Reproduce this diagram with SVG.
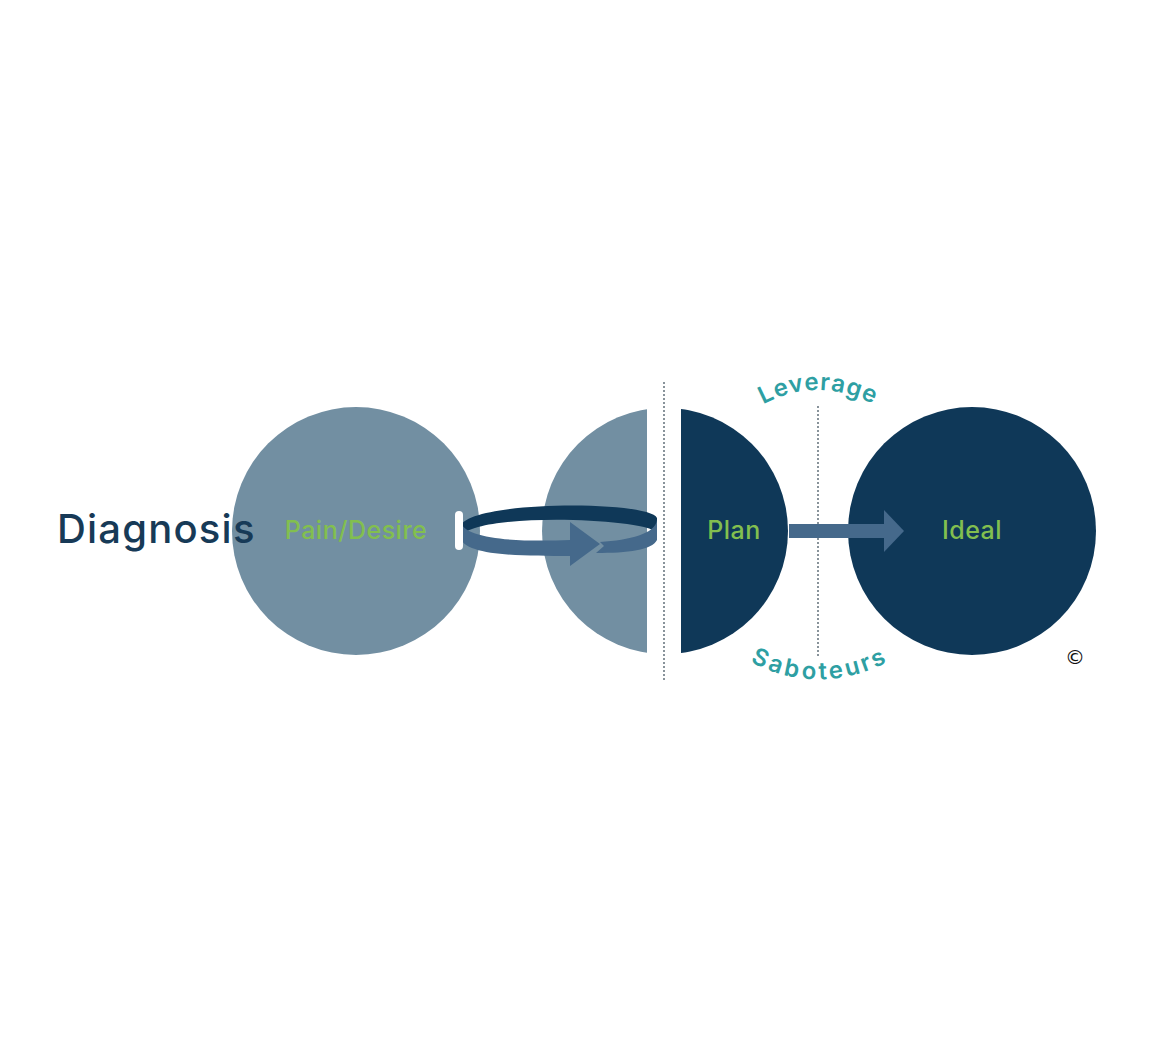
<svg xmlns="http://www.w3.org/2000/svg" width="1158" height="1061" viewBox="0 0 1158 1061">
<style>
.lbl{font-family:"Inter","Noto Sans",sans-serif;font-size:25px;font-weight:500;fill:#82bf4f;text-anchor:middle;letter-spacing:0.5px}
.arc{font-family:"Inter","Noto Sans",sans-serif;font-size:24px;font-weight:600;fill:#2e9fa3;letter-spacing:1px}
.dot{stroke:#4a5a66;stroke-width:1.3;stroke-dasharray:2 2}
</style>
<defs>
<clipPath id="cl"><rect x="500" y="390" width="147" height="280"/></clipPath>
<clipPath id="cr"><rect x="681" y="390" width="150" height="280"/></clipPath>
<path id="topArc" d="M757,408 Q817,372 880,408"/>
<path id="botArc" d="M752,642 Q818,680 886,642"/>
</defs>
<rect width="1158" height="1061" fill="#fff"/>
<g id="pain"><circle cx="356" cy="531" r="124" fill="#728fa2"/><text class="lbl" x="356" y="539">Pain/Desire</text></g>
<g id="diagnosis"><text x="57" y="543" font-family="Inter,'Noto Sans',sans-serif" font-size="40" font-weight="500" letter-spacing="1.2" fill="#173a57">Diagnosis</text></g>
<g id="half-left"><circle cx="665" cy="531" r="123" fill="#728fa2" clip-path="url(#cl)"/></g>
<g id="plan"><circle cx="665" cy="531" r="123" fill="#0f3858" clip-path="url(#cr)"/><text class="lbl" x="734" y="539">Plan</text></g>
<g id="ideal"><circle cx="972" cy="531" r="124" fill="#0f3858"/><text class="lbl" x="972" y="539">Ideal</text></g>
<g id="labels">
<text class="arc"><textPath href="#topArc" startOffset="50%" text-anchor="middle">Leverage</textPath></text>
<text class="arc"><textPath href="#botArc" startOffset="50%" text-anchor="middle" dominant-baseline="hanging">Saboteurs</textPath></text>
</g>
<g id="connectors">
<line class="dot" x1="664" y1="382" x2="664" y2="680"/>
<line class="dot" x1="818" y1="406" x2="818" y2="656"/>
<path d="M460,528 C462,500 650,500 657,518 L657,532 C640,518 480,512 460,536 Z" fill="#0f3858"/>
<path d="M460,520 C462,540 520,542 570,540 L570,522 L600,544 L570,566 L570,556 C520,556 462,556 460,536 Z" fill="#45698b"/>
<path d="M600,542 C630,540 655,534 657,520 L657,540 C652,550 628,553 596,553 L604,546 Z" fill="#45698b"/>
<rect x="455" y="511" width="8" height="39" rx="4" fill="#fff"/>
<rect x="789" y="524" width="96" height="14" fill="#45698b"/>
<polygon points="884,510 904,531 884,552" fill="#45698b"/>
</g>
<g id="copyright"><text x="1075" y="664" font-family="'DejaVu Sans',sans-serif" font-size="20" fill="#111" text-anchor="middle">©</text></g>
</svg>
